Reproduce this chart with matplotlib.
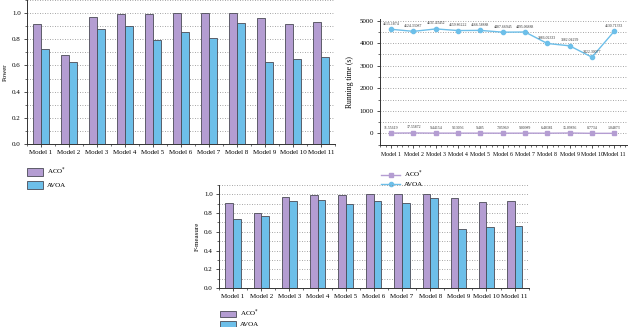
import matplotlib.pyplot as plt
from matplotlib.ticker import MultipleLocator
import numpy as np

plt.rcParams['font.family'] = ['Liberation Serif', 'DejaVu Serif']

# data
models = ["Model 1", "Model 2", "Model 3", "Model 4", "Model 5", "Model 6",
          "Model 7", "Model 8", "Model 9", "Model 10", "Model 11"]
power_aco = [0.914, 0.677, 0.967, 0.992, 0.990, 1.0, 1.0, 1.0, 0.960, 0.914, 0.930]
power_avoa = [0.723, 0.626, 0.880, 0.900, 0.794, 0.857, 0.810, 0.926, 0.626, 0.647, 0.662]
fm_aco = [0.911, 0.797, 0.968, 0.996, 0.996, 1.0, 1.0, 1.0, 0.961, 0.915, 0.925]
fm_avoa = [0.740, 0.769, 0.925, 0.940, 0.893, 0.925, 0.904, 0.961, 0.626, 0.648, 0.662]
time_aco = [11.55619, 17.55872, 9.44154, 9.13056, 9.485, 7.05969,
            9.00989, 6.48381, 15.09836, 0.7734, 1.04873]
time_avoa = [4615.1874, 4524.33087, 4631.43452, 4559.86222, 4566.58888, 4487.66945,
             4495.06888, 3986.02333, 3882.04299, 3378.30077, 4530.71333]
time_aco_lbl = ["11.55619", "17.55872", "9.44154", "9.13056", "9.485", "7.05969",
                "9.00989", "6.48381", "15.09836", "0.7734", "1.04873"]
time_avoa_lbl = ["4615.1874", "4524.33087", "4631.43452", "4559.86222", "4566.58888",
                 "4487.66945", "4495.06888", "3986.02333", "3882.04299", "3422.30077",
                 "4530.71333"]

purple = "#b49dd2"
blue = "#6dbfe9"
edge = "#4a4a55"
W, H = 628, 327


def px_axes(fig, x0, y0, x1, y1):
    # axes from pixel box (top-left origin)
    ax = fig.add_axes([x0 / W, 1 - y1 / H, (x1 - x0) / W, (y1 - y0) / H])
    ax.patch.set_visible(False)
    return ax


def style_axes(ax):
    for s in ["top", "right"]:
        ax.spines[s].set_visible(False)
    for s in ["left", "bottom"]:
        ax.spines[s].set_color("#333333")
        ax.spines[s].set_linewidth(0.7)
    ax.tick_params(axis="both", which="major", labelsize=5, length=2.5, width=0.6,
                   color="#333333", pad=2)
    ax.tick_params(axis="both", which="minor", length=1.5, width=0.5, color="#333333")


def bar_panel(ax, aco, avoa, ylabel):
    x = np.arange(len(models))
    w = 0.27
    ax.bar(x - w / 2, aco, w, color=purple, edgecolor=edge, linewidth=0.6,
           label="ACO$^{*}$", zorder=3)
    ax.bar(x + w / 2, avoa, w, color=blue, edgecolor=edge, linewidth=0.6,
           label="AVOA", zorder=3)
    ax.set_xlim(-0.5, len(models) - 0.5)
    ax.set_ylim(0, 1.1)
    ax.set_xticks(x)
    ax.set_xticklabels(models)
    ax.set_xticks(np.arange(-0.5, len(models), 1.0), minor=True)
    ax.yaxis.set_minor_locator(MultipleLocator(0.1))
    ax.set_yticks([0, 0.2, 0.4, 0.6, 0.8, 1.0])
    ax.set_yticklabels(["0.0", "0.2", "0.4", "0.6", "0.8", "1.0"])
    ax.grid(axis="y", which="both", linestyle=(0, (1, 2)), color="#888888",
            linewidth=0.6, zorder=0)
    ax.set_ylabel(ylabel, fontsize=5, labelpad=3)
    style_axes(ax)


fig = plt.figure(figsize=(6.28, 3.27), dpi=100)

# top-left: Power
ax1 = px_axes(fig, 27, 0, 335, 144)
bar_panel(ax1, power_aco, power_avoa, "Power")
ax1.legend(loc="upper left", bbox_to_anchor=(24 / W, 1 - 162 / H),
           bbox_transform=fig.transFigure, frameon=False, fontsize=5,
           handlelength=2.2, handleheight=1.3, labelspacing=0.6, borderpad=0,
           handletextpad=0.6)

# top-right: running time
ax2 = px_axes(fig, 380, 19.5, 631, 145.3)
x = np.arange(len(models))
ax2.plot(x, time_aco, color=purple, marker="s", markersize=3, linewidth=1,
         label="ACO$^{*}$", zorder=3)
ax2.plot(x, time_avoa, color=blue, marker="o", markersize=3, linewidth=1,
         label="AVOA", zorder=3)
for xi, v, s in zip(x, time_avoa, time_avoa_lbl):
    ax2.annotate(s, (xi, v), xytext=(0, 2.5), textcoords="offset points",
                 ha="center", va="bottom", fontsize=2.8, color="#333333")
for xi, v, s in zip(x, time_aco, time_aco_lbl):
    ax2.annotate(s, (xi, v), xytext=(0, 2.5), textcoords="offset points",
                 ha="center", va="bottom", fontsize=2.8, color="#333333")
ax2.set_xlim(-0.5, len(models) - 0.5)
ax2.set_ylim(-530, 5050)
ax2.set_xticks(x)
ax2.set_xticklabels(models)
ax2.set_xticks(np.arange(-0.5, len(models), 0.25), minor=True)
ax2.yaxis.set_major_locator(MultipleLocator(1000))
ax2.yaxis.set_minor_locator(MultipleLocator(500))
ax2.grid(axis="y", which="both", linestyle=(0, (1, 2)), color="#888888",
         linewidth=0.6, zorder=0)
ax2.set_ylabel("Running time (s)", fontsize=5.5, labelpad=4)
style_axes(ax2)
ax2.tick_params(axis="x", labelsize=4.2)
ax2.legend(loc="upper left", bbox_to_anchor=(378 / W, 1 - 165 / H),
           bbox_transform=fig.transFigure, frameon=False, fontsize=5,
           handlelength=2.6, labelspacing=0.25, borderpad=0, handletextpad=0.6)

# bottom: F-measure
ax3 = px_axes(fig, 219, 185, 528.7, 288)
bar_panel(ax3, fm_aco, fm_avoa, "F-measure")
ax3.legend(loc="upper left", bbox_to_anchor=(217 / W, 1 - 304 / H),
           bbox_transform=fig.transFigure, frameon=False, fontsize=5,
           handlelength=2.2, handleheight=1.0, labelspacing=0.3, borderpad=0,
           handletextpad=0.6)

fig.savefig("out.png", dpi=100)
